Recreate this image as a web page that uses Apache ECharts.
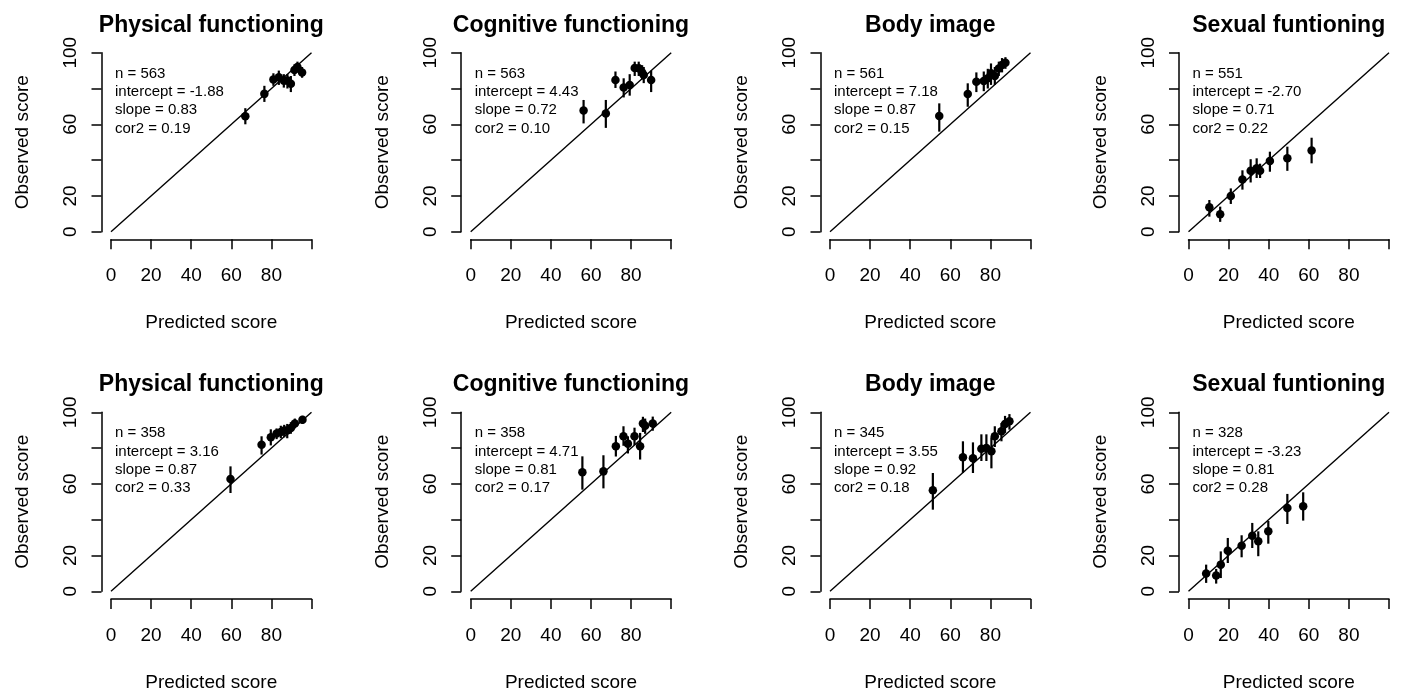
<!DOCTYPE html>
<html>
<head>
<meta charset="utf-8">
<script src="https://cdn.jsdelivr.net/npm/echarts@6/dist/echarts.min.js"></script>
<style>
html,body{margin:0;padding:0;background:#fff;}
#chart{width:1402px;height:693px;}
</style>
</head>
<body>
<div id="chart"></div>
<script>
// ---- data ----
const titles = ['Physical functioning','Cognitive functioning','Body image','Sexual funtioning',
                'Physical functioning','Cognitive functioning','Body image','Sexual funtioning'];
const xTicks = ['0','20','40','60','80',''];
const yTicks = ['0','20','','60','','100'];

const pred1 = [67, 76.5, 81, 83.7, 86.2, 88, 89.7, 91.5, 93, 95.3];
const obs1  = [64.5, 77, 85, 86.3, 84.4, 84.4, 82.7, 90.3, 92, 89];
const lo1   = [60, 72.5, 81.5, 82, 80.5, 80, 78, 87, 89, 86];
const hi1   = [69, 81.5, 88.5, 90, 88, 88, 87, 93.5, 95, 92];

const pred2 = [56.3, 67.4, 72.2, 76.3, 79.3, 81.8, 83.8, 85.5, 86.3, 90];
const obs2  = [67.7, 66.1, 84.7, 80.5, 82, 91.4, 91.3, 89, 87.5, 84.7];
const lo2   = [60.5, 58, 80.3, 75, 76, 87, 87, 85, 83, 78];
const hi2   = [73.6, 73.6, 89.5, 85.7, 88, 95, 95, 93, 92, 90];

const pred3 = [54.5, 68.7, 73, 76.7, 78.7, 80.3, 82.2, 84.2, 85.8, 87.5];
const obs3  = [64.6, 76.9, 83.8, 84.2, 85.7, 88.5, 87, 91.2, 93.1, 94.4];
const lo3   = [55.9, 69.8, 78, 78.5, 80, 82, 82, 87, 89, 91];
const hi3   = [71.7, 82.9, 89, 89.5, 91, 94, 92, 95, 97, 97.5];

const pred4 = [10.4, 15.8, 21.1, 26.9, 31, 34, 35.7, 40.6, 49.3, 61.4];
const obs4  = [13.6, 9.7, 19.9, 29.2, 34.1, 35.4, 34.1, 39.5, 41, 45.3];
const lo4   = [8.4, 5.5, 15.5, 23.5, 27.5, 30, 30, 33.5, 34, 38.2];
const hi4   = [17.7, 14, 24.2, 34.3, 40.5, 41, 38, 44.7, 47.5, 52.5];

const pred5 = [59.6, 75.1, 79.7, 82.6, 84.7, 86.4, 87.9, 89.7, 91.7, 95.5];
const obs5  = [62.8, 81.9, 86, 88.1, 89, 89.8, 89.9, 91.2, 93.7, 95.9];
const lo5   = [54.9, 76.4, 81.5, 85, 85.5, 86, 85.5, 88, 91, 93.5];
const hi5   = [69.8, 86.6, 90.5, 91, 92.5, 93, 93.5, 94.5, 96.5, 98];

const pred6 = [55.7, 66.2, 72.4, 76.2, 78.4, 81.7, 84.5, 85.9, 87, 90.8];
const obs6  = [66.5, 67, 81, 86.6, 82.5, 86.6, 81, 93.7, 92.5, 93.7];
const lo6   = [56.8, 57.5, 75.3, 81.3, 77, 81.6, 73.6, 89, 88, 89.7];
const hi6   = [75.4, 76, 86.8, 92.2, 86.6, 91.4, 88.5, 97.5, 96.5, 97.6];

const pred7 = [51.3, 66.3, 71.3, 75.5, 78, 80.5, 82.2, 85.5, 87.3, 89.5];
const obs7  = [56.4, 74.9, 74.3, 79.7, 80.1, 78.2, 86.6, 89.4, 93.5, 95];
const lo7   = [45.6, 66.1, 66.1, 72.8, 72.8, 68.7, 80.6, 83.8, 88.5, 90.3];
const hi7   = [66.1, 83.8, 83.2, 87.7, 87.7, 86, 92.2, 94, 98, 99];

const pred8 = [8.8, 13.8, 16.1, 19.6, 26.5, 31.8, 34.8, 39.8, 49.3, 57.2];
const obs8  = [9.9, 8.8, 14.9, 22.7, 25.5, 31.1, 27.9, 33.5, 46.6, 47.5];
const lo8   = [4.7, 4.3, 7.4, 15.8, 19, 24.2, 19.6, 26.6, 37.6, 39.5];
const hi8   = [14.9, 12.5, 22.3, 29.8, 31.3, 38.2, 33.5, 39.3, 54.4, 55.3];

const nVals      = ['563','563','561','551','358','358','345','328'];
const intercepts = ['-1.88','4.43','7.18','-2.70','3.16','4.71','3.55','-3.23'];
const slopes     = ['0.83','0.72','0.87','0.71','0.87','0.81','0.92','0.81'];
const cor2s      = ['0.19','0.10','0.15','0.22','0.33','0.17','0.18','0.28'];

const preds = [pred1,pred2,pred3,pred4,pred5,pred6,pred7,pred8];
const obss  = [obs1,obs2,obs3,obs4,obs5,obs6,obs7,obs8];
const los   = [lo1,lo2,lo3,lo4,lo5,lo6,lo7,lo8];
const his   = [hi1,hi2,hi3,hi4,hi5,hi6,hi7,hi8];

// ---- layout ----
const FONT = '"Liberation Sans", Arial, sans-serif';
const colX = [111, 470.7, 830, 1188.5];
const rowY = [52.7, 412.3];
const GW = 200.5, GH = 179;

const grids = [], xAxes = [], yAxes = [], series = [], titleArr = [], graphics = [];
for (let i = 0; i < 8; i++) {
  const left = colX[i % 4], top = rowY[Math.floor(i / 4)];
  grids.push({left: left, top: top, width: GW, height: GH, containLabel: false});
  xAxes.push({
    gridIndex: i, type: 'value', min: 0, max: 100, interval: 20, offset: 7.6,
    axisLine: {show: true, onZero: false, lineStyle: {color: '#000', width: 1.5}},
    axisTick: {show: true, length: 10, inside: false, lineStyle: {color: '#000', width: 1.5}},
    axisLabel: {show: true, margin: 27, fontSize: 19, fontFamily: FONT, color: '#000',
                formatter: v => xTicks[Math.round(v / 20)]},
    splitLine: {show: false},
    name: 'Predicted score', nameLocation: 'middle', nameGap: 74,
    nameTextStyle: {fontSize: 19, fontFamily: FONT, color: '#000'}
  });
  yAxes.push({
    gridIndex: i, type: 'value', min: 0, max: 100, interval: 20, offset: 9.5,
    axisLine: {show: true, onZero: false, lineStyle: {color: '#000', width: 1.5}},
    axisTick: {show: true, length: 10, inside: false, lineStyle: {color: '#000', width: 1.5}},
    axisLabel: {show: true, rotate: 90, margin: 21, fontSize: 19, fontFamily: FONT, color: '#000',
                formatter: v => yTicks[Math.round(v / 20)]},
    splitLine: {show: false},
    name: 'Observed score', nameLocation: 'middle', nameGap: 69,
    nameTextStyle: {fontSize: 19, fontFamily: FONT, color: '#000'}
  });
  titleArr.push({
    text: titles[i], left: left + GW / 2, top: top - 39, textAlign: 'center', padding: 0,
    textStyle: {fontSize: 23, fontWeight: 'bold', fontFamily: FONT, color: '#000'}
  });
  graphics.push({
    type: 'text', left: left + 4, top: top + 11.5, silent: true,
    style: {
      text: 'n = ' + nVals[i] + '\nintercept = ' + intercepts[i] + '\nslope = ' + slopes[i] + '\ncor2 = ' + cor2s[i],
      font: '15px ' + FONT, fill: '#000', lineHeight: 18.4
    }
  });
  // identity line
  series.push({
    type: 'line', xAxisIndex: i, yAxisIndex: i, data: [[0, 0], [100, 100]],
    showSymbol: false, symbol: 'none', silent: true, clip: false,
    lineStyle: {color: '#000', width: 1.4}, animation: false
  });
  // error bars
  const ebData = preds[i].map((x, k) => [x, los[i][k], his[i][k]]);
  series.push({
    type: 'custom', xAxisIndex: i, yAxisIndex: i, data: ebData, clip: false, silent: true,
    encode: {x: 0, y: [1, 2]},
    renderItem: function (params, api) {
      const p1 = api.coord([api.value(0), api.value(1)]);
      const p2 = api.coord([api.value(0), api.value(2)]);
      return {type: 'line', shape: {x1: p1[0], y1: p1[1], x2: p2[0], y2: p2[1]},
              style: {stroke: '#000', lineWidth: 2.2}};
    },
    animation: false
  });
  // points
  series.push({
    type: 'scatter', xAxisIndex: i, yAxisIndex: i,
    data: preds[i].map((x, k) => [x, obss[i][k]]),
    symbol: 'circle', symbolSize: 8.5, clip: false, silent: true,
    itemStyle: {color: '#000', opacity: 1}, animation: false
  });
}

const chart = echarts.init(document.getElementById('chart'), null, {renderer: 'canvas'});
chart.setOption({
  backgroundColor: '#fff',
  animation: false,
  title: titleArr,
  grid: grids,
  xAxis: xAxes,
  yAxis: yAxes,
  series: series,
  graphic: graphics
});
</script>
</body>
</html>
